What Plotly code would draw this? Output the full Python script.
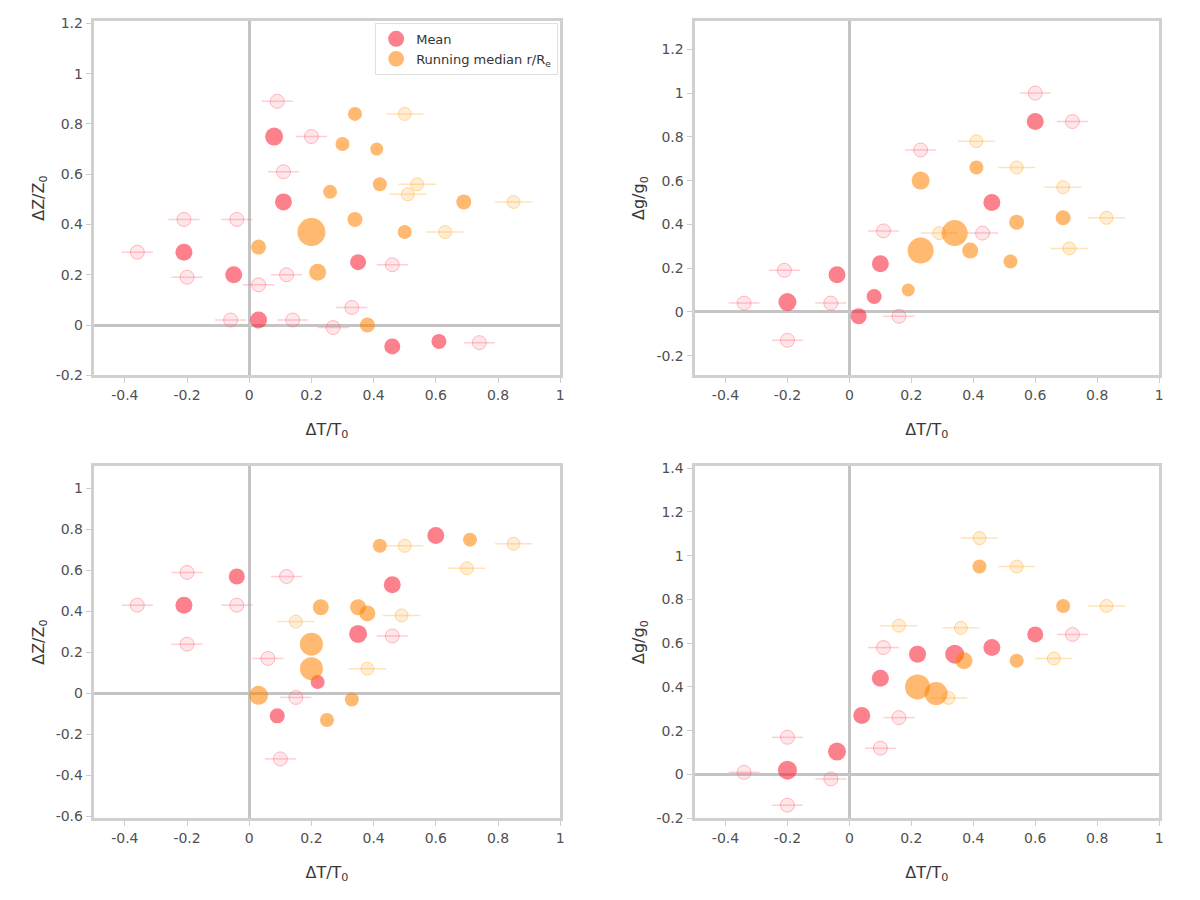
import plotly.graph_objects as go

# x ticks shared by all four panels
x_ticks = [-0.4, -0.2, 0, 0.2, 0.4, 0.6, 0.8, 1]
x_tick_text = ['-0.4', '-0.2', '0', '0.2', '0.4', '0.6', '0.8', '1']

# ---- panel 1 (top left) ----
p1_red_x = [0.08, 0.11, -0.21, -0.05, 0.35, 0.03, 0.46, 0.61]
p1_red_y = [0.75, 0.49, 0.29, 0.20, 0.25, 0.02, -0.085, -0.065]
p1_red_s = [18, 17, 17, 17, 16, 17, 16, 15]
p1_org_x = [0.20, 0.22, 0.03, 0.26, 0.34, 0.38, 0.42, 0.41, 0.30, 0.34, 0.50, 0.69]
p1_org_y = [0.37, 0.21, 0.31, 0.53, 0.42, 0.00, 0.56, 0.70, 0.72, 0.84, 0.37, 0.49]
p1_org_s = [28, 17, 15, 14, 15, 15, 14, 13, 14, 14, 14, 15]
p1_lred_x = [0.09, 0.20, 0.11, -0.21, -0.04, -0.36, -0.20, 0.03, 0.12, 0.46, 0.14, -0.06, 0.33, 0.74, 0.27]
p1_lred_y = [0.89, 0.75, 0.61, 0.42, 0.42, 0.29, 0.19, 0.16, 0.20, 0.24, 0.02, 0.02, 0.07, -0.07, -0.01]
p1_lorg_x = [0.50, 0.63, 0.85, 0.54, 0.51]
p1_lorg_y = [0.84, 0.37, 0.49, 0.56, 0.52]

# ---- panel 2 (top right) ----
p2_red_x = [0.60, 0.46, 0.10, -0.04, -0.20, 0.08, 0.03]
p2_red_y = [0.87, 0.50, 0.22, 0.17, 0.045, 0.07, -0.02]
p2_red_s = [17, 17, 17, 17, 18, 15, 16]
p2_org_x = [0.23, 0.23, 0.34, 0.39, 0.54, 0.69, 0.41, 0.52, 0.19]
p2_org_y = [0.60, 0.28, 0.36, 0.28, 0.41, 0.43, 0.66, 0.23, 0.10]
p2_org_s = [18, 26, 26, 16, 15, 15, 14, 14, 13]
p2_lred_x = [0.60, 0.72, 0.23, -0.21, -0.34, -0.06, 0.16, -0.20, 0.11, 0.43]
p2_lred_y = [1.00, 0.87, 0.74, 0.19, 0.04, 0.04, -0.02, -0.13, 0.37, 0.36]
p2_lorg_x = [0.83, 0.54, 0.41, 0.69, 0.71, 0.29]
p2_lorg_y = [0.43, 0.66, 0.78, 0.57, 0.29, 0.36]

# ---- panel 3 (bottom left) ----
p3_red_x = [0.60, 0.46, -0.04, -0.21, 0.35, 0.09, 0.22]
p3_red_y = [0.77, 0.53, 0.57, 0.43, 0.29, -0.11, 0.055]
p3_red_s = [17, 17, 16, 17, 18, 15, 14]
p3_org_x = [0.20, 0.20, 0.03, 0.71, 0.42, 0.35, 0.23, 0.33, 0.25, 0.38]
p3_org_y = [0.24, 0.12, -0.01, 0.75, 0.72, 0.42, 0.42, -0.03, -0.13, 0.39]
p3_org_s = [23, 23, 19, 14, 14, 16, 16, 14, 14, 16]
p3_lred_x = [-0.04, -0.36, -0.20, -0.20, 0.12, 0.06, 0.46, 0.10, 0.15]
p3_lred_y = [0.43, 0.43, 0.59, 0.24, 0.57, 0.17, 0.28, -0.32, -0.02]
p3_lorg_x = [0.85, 0.50, 0.70, 0.15, 0.49, 0.38]
p3_lorg_y = [0.73, 0.72, 0.61, 0.35, 0.38, 0.12]

# ---- panel 4 (bottom right) ----
p4_red_x = [0.60, 0.46, 0.34, 0.22, 0.10, 0.04, -0.04, -0.20]
p4_red_y = [0.64, 0.58, 0.55, 0.55, 0.44, 0.27, 0.105, 0.02]
p4_red_s = [16, 17, 19, 17, 17, 17, 18, 19]
p4_org_x = [0.22, 0.28, 0.37, 0.42, 0.69, 0.54]
p4_org_y = [0.40, 0.37, 0.52, 0.95, 0.77, 0.52]
p4_org_s = [25, 23, 17, 14, 14, 14]
p4_lred_x = [0.72, 0.16, 0.11, -0.20, -0.34, 0.10, -0.06, -0.20]
p4_lred_y = [0.64, 0.26, 0.58, 0.17, 0.01, 0.12, -0.02, -0.14]
p4_lorg_x = [0.54, 0.42, 0.83, 0.36, 0.66, 0.32, 0.16]
p4_lorg_y = [0.95, 1.08, 0.77, 0.67, 0.53, 0.35, 0.68]

# y ticks per panel
p1_yticks = [-0.2, 0, 0.2, 0.4, 0.6, 0.8, 1, 1.2]
p2_yticks = [-0.2, 0, 0.2, 0.4, 0.6, 0.8, 1, 1.2]
p3_yticks = [-0.6, -0.4, -0.2, 0, 0.2, 0.4, 0.6, 0.8, 1]
p4_yticks = [-0.2, 0, 0.2, 0.4, 0.6, 0.8, 1, 1.2, 1.4]

RED = 'rgba(250,30,50,0.8)'
ORANGE = 'rgba(255,130,0,0.8)'
LRED = 'rgba(255,90,110,0.15)'
LORG = 'rgba(255,175,60,0.22)'

fig = go.Figure()


def add_panel(n, red, org, lred, lorg, legend):
    xa = 'x' if n == 1 else f'x{n}'
    ya = 'y' if n == 1 else f'y{n}'
    fig.add_trace(go.Scatter(
        x=lred[0], y=lred[1], mode='markers', xaxis=xa, yaxis=ya,
        marker=dict(size=14, color=LRED, line=dict(color='rgba(255,90,110,0.4)', width=1)),
        error_x=dict(type='constant', value=0.05, color='rgba(255,90,110,0.3)', thickness=1.5, width=0),
        showlegend=False, hoverinfo='skip'))
    fig.add_trace(go.Scatter(
        x=lorg[0], y=lorg[1], mode='markers', xaxis=xa, yaxis=ya,
        marker=dict(size=13, color=LORG, line=dict(color='rgba(255,175,60,0.45)', width=1)),
        error_x=dict(type='constant', value=0.06, color='rgba(255,175,60,0.35)', thickness=1.5, width=0),
        showlegend=False, hoverinfo='skip'))
    fig.add_trace(go.Scatter(
        x=red[0], y=red[1], mode='markers', xaxis=xa, yaxis=ya, name='Mean',
        marker=dict(size=red[2], color=RED, line=dict(width=0)),
        showlegend=legend))
    fig.add_trace(go.Scatter(
        x=org[0], y=org[1], mode='markers', xaxis=xa, yaxis=ya,
        name='Running median r/R<sub>e</sub>',
        marker=dict(size=org[2], color=ORANGE, line=dict(width=0)),
        showlegend=legend))


add_panel(1, (p1_red_x, p1_red_y, p1_red_s), (p1_org_x, p1_org_y, p1_org_s),
          (p1_lred_x, p1_lred_y), (p1_lorg_x, p1_lorg_y), True)
add_panel(2, (p2_red_x, p2_red_y, p2_red_s), (p2_org_x, p2_org_y, p2_org_s),
          (p2_lred_x, p2_lred_y), (p2_lorg_x, p2_lorg_y), False)
add_panel(3, (p3_red_x, p3_red_y, p3_red_s), (p3_org_x, p3_org_y, p3_org_s),
          (p3_lred_x, p3_lred_y), (p3_lorg_x, p3_lorg_y), False)
add_panel(4, (p4_red_x, p4_red_y, p4_red_s), (p4_org_x, p4_org_y, p4_org_s),
          (p4_lred_x, p4_lred_y), (p4_lorg_x, p4_lorg_y), False)

axis_font = dict(family='DejaVu Sans', size=14, color='#505050')
title_font = dict(family='DejaVu Sans', size=16, color='#383838')


def xaxis(domain, anchor):
    return dict(domain=domain, anchor=anchor, range=[-0.5, 1.0],
                tickvals=x_ticks, ticktext=x_tick_text, tickfont=axis_font,
                ticks='outside', ticklen=5, tickcolor='#cccccc',
                showgrid=False, showline=True, mirror=True, linecolor='#d0d0d0', linewidth=3,
                zeroline=True, zerolinecolor='#c4c4c4', zerolinewidth=3,
                title=dict(text='ΔT/T<sub>0</sub>', font=title_font, standoff=22))


def yaxis(domain, anchor, rng, ticks, label):
    return dict(domain=domain, anchor=anchor, range=rng,
                tickvals=ticks, ticktext=[f'{t:g}' for t in ticks], tickfont=axis_font,
                ticks='outside', ticklen=5, tickcolor='#cccccc',
                showgrid=False, showline=True, mirror=True, linecolor='#d0d0d0', linewidth=3,
                zeroline=True, zerolinecolor='#c4c4c4', zerolinewidth=3,
                title=dict(text=label, font=title_font, standoff=8))


fig.update_layout(
    width=1200, height=900,
    margin=dict(l=0, r=0, t=0, b=0),
    plot_bgcolor='white', paper_bgcolor='white',
    xaxis=xaxis([0.0717, 0.4617], 'y'),
    yaxis=yaxis([0.5922, 0.9922], 'x', [-0.2, 1.21], p1_yticks, 'ΔZ/Z<sub>0</sub>'),
    xaxis2=xaxis([0.574, 0.9625], 'y2'),
    yaxis2=yaxis([0.5922, 0.9922], 'x2', [-0.29, 1.33], p2_yticks, 'Δg/g<sub>0</sub>'),
    xaxis3=xaxis([0.0717, 0.4617], 'y3'),
    yaxis3=yaxis([0.0922, 0.49], 'x3', [-0.61, 1.11], p3_yticks, 'ΔZ/Z<sub>0</sub>'),
    xaxis4=xaxis([0.574, 0.9625], 'y4'),
    yaxis4=yaxis([0.0922, 0.49], 'x4', [-0.2, 1.41], p4_yticks, 'Δg/g<sub>0</sub>'),
    legend=dict(x=0.46, y=0.99, xanchor='right', yanchor='top',
                bgcolor='rgba(255,255,255,0.9)', bordercolor='#e0e0e0', borderwidth=1,
                font=dict(family='DejaVu Sans', size=13, color='#333333')),
)

fig.write_html("out.html")
